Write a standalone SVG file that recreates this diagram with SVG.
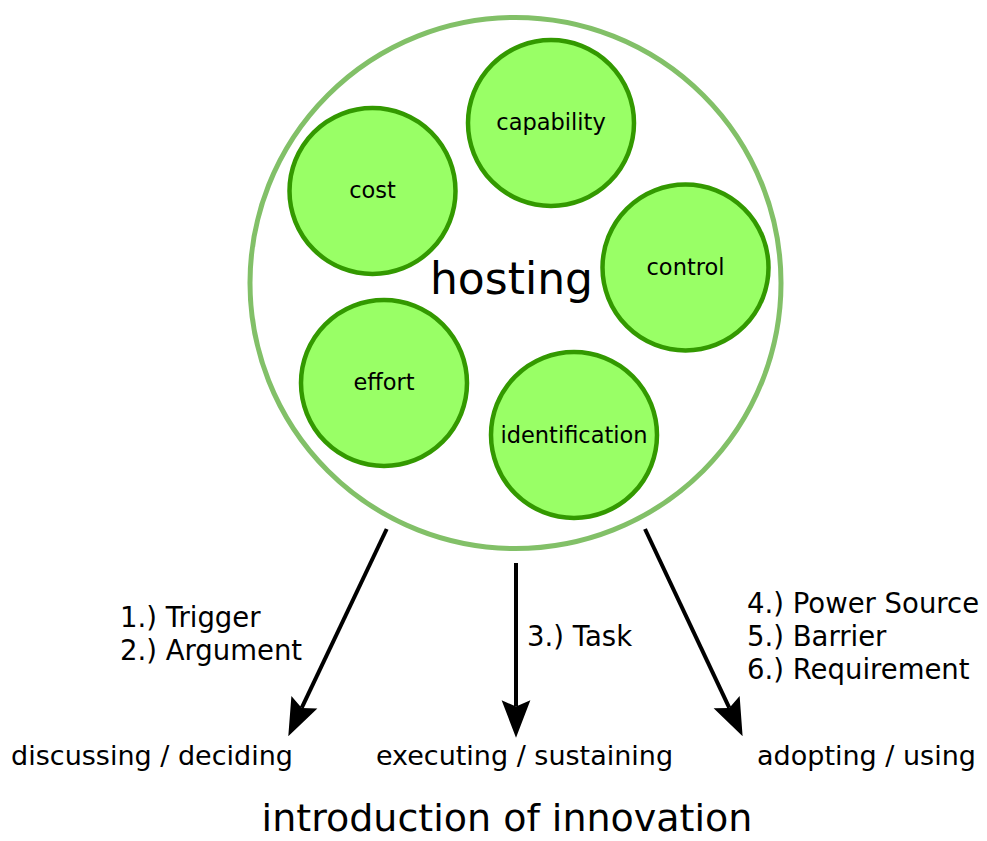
<svg xmlns="http://www.w3.org/2000/svg" width="987" height="841" viewBox="0 0 987 841">
  <style>
    text { font-family: "DejaVu Sans", Verdana, sans-serif; fill: #000; }
    .factor circle { fill: #99ff66; stroke: #339900; stroke-width: 4.5; }
    .factor text { font-size: 22.5px; text-anchor: middle; }
    .edge { stroke: #000; stroke-width: 4; fill: none; marker-end: url(#head); }
    .phase { font-size: 27px; text-anchor: middle; }
    .note { font-size: 27.5px; }
  </style>
  <defs>
    <!-- classic notched arrowhead; line ends at the notch, tip sits 25px further -->
    <marker id="head" markerUnits="userSpaceOnUse" markerWidth="40" markerHeight="30" viewBox="-6 -12 32 24" refX="0" refY="0" orient="auto" overflow="visible">
      <path d="M-5,-11.5 L25,0 L-5,11.5 L0,0 Z" fill="#000"/>
    </marker>
  </defs>

  <rect width="987" height="841" fill="#fff"/>

  <!-- hosting container -->
  <g id="hosting">
    <circle cx="515.5" cy="283" r="265.5" fill="#fff" stroke="#82c068" stroke-width="5"/>
    <text x="511.5" y="294" font-size="44" text-anchor="middle">hosting</text>
  </g>

  <!-- factors inside hosting -->
  <g id="capability" class="factor">
    <circle cx="551" cy="123" r="83"/>
    <text x="551" y="130">capability</text>
  </g>
  <g id="cost" class="factor">
    <circle cx="372.5" cy="191" r="83"/>
    <text x="372.5" y="198">cost</text>
  </g>
  <g id="control" class="factor">
    <circle cx="685.5" cy="267.5" r="83"/>
    <text x="685.5" y="275">control</text>
  </g>
  <g id="effort" class="factor">
    <circle cx="384" cy="383" r="83"/>
    <text x="384" y="390">effort</text>
  </g>
  <g id="identification" class="factor">
    <circle cx="574" cy="435" r="83"/>
    <text x="574" y="443">identification</text>
  </g>

  <!-- connectors -->
  <g id="connectors">
    <line class="edge" x1="386.7" y1="529" x2="301.7" y2="707.9"/>
    <line class="edge" x1="516" y1="563" x2="516" y2="706.5"/>
    <line class="edge" x1="645" y1="529" x2="729.3" y2="707.9"/>
  </g>

  <!-- connector labels -->
  <g id="labels-discuss" class="note">
    <text x="120" y="627">1.) Trigger</text>
    <text x="120" y="660">2.) Argument</text>
  </g>
  <g id="labels-execute" class="note">
    <text x="527" y="646">3.) Task</text>
  </g>
  <g id="labels-adopt" class="note">
    <text x="747" y="613">4.) Power Source</text>
    <text x="747" y="646">5.) Barrier</text>
    <text x="747" y="679">6.) Requirement</text>
  </g>

  <!-- phases -->
  <g id="discussing">
    <text class="phase" x="152" y="765">discussing / deciding</text>
  </g>
  <g id="executing">
    <text class="phase" x="524.5" y="765">executing / sustaining</text>
  </g>
  <g id="adopting">
    <text class="phase" x="866.5" y="765">adopting / using</text>
  </g>

  <g id="title">
    <text x="507" y="831" font-size="38" text-anchor="middle">introduction of innovation</text>
  </g>
</svg>
